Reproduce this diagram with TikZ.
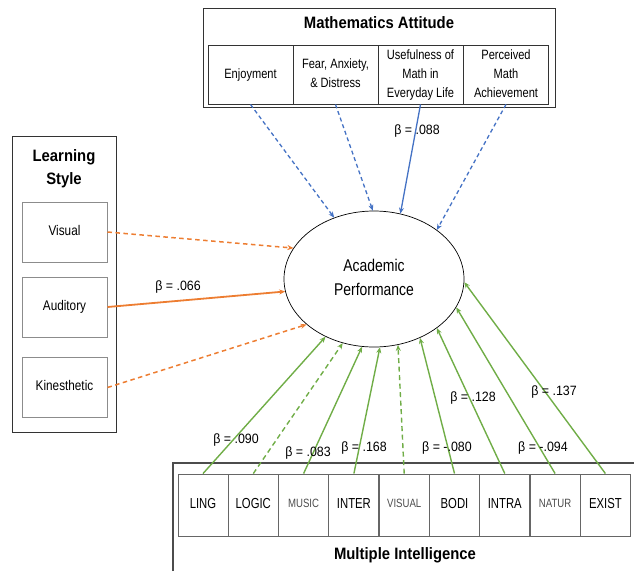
\documentclass[tikz,border=0pt]{standalone}
\usepackage{graphicx}
\usepackage{fontspec}
\setmainfont{Liberation Sans}
\usetikzlibrary{shapes.geometric,arrows.meta}
\definecolor{cblue}{HTML}{4472C4}
\definecolor{corange}{HTML}{ED7D31}
\definecolor{cgreen}{HTML}{70AD47}
\newcommand{\sq}[2][0.82]{\scalebox{#1}[1]{\begin{tabular}{@{}c@{}}#2\end{tabular}}}
\begin{document}
\begin{tikzpicture}[x=1pt,y=-1pt,
  mabox/.style={draw=black!80, line width=0.9pt, minimum width=85pt, minimum height=59pt, align=center, inner sep=0pt, font=\fontsize{13.5}{19}\selectfont},
  lsbox/.style={draw=black!45, line width=1pt, minimum width=85pt, minimum height=60pt, align=center, inner sep=0pt, font=\fontsize{14}{16}\selectfont},
  mibox/.style={draw=black!60, line width=0.9pt, minimum width=50pt, minimum height=62pt, align=center, inner sep=0pt, font=\fontsize{14.5}{16}\selectfont},
  mismall/.style={mibox, font=\fontsize{12}{14}\selectfont, text=black!70},
  title/.style={font=\fontsize{16.5}{23}\selectfont\bfseries, align=center, inner sep=0pt},
  beta/.style={font=\fontsize{13.5}{15}\selectfont, inner sep=0pt},
  frame/.style={draw=black!80, line width=0.9pt},
  tip/.style={-{Stealth[length=6pt,width=5pt]}},
  bluesolid/.style={tip, draw=cblue, line width=1.3pt},
  bluedash/.style={bluesolid, dash pattern=on 4pt off 3pt},
  orsolid/.style={tip, draw=corange, line width=1.8pt},
  ordash/.style={orsolid, line width=1.5pt, dash pattern=on 4.5pt off 3.5pt},
  grsolid/.style={tip, draw=cgreen, line width=1.4pt},
  grdash/.style={grsolid, dash pattern=on 5pt off 3.5pt}
]
\useasboundingbox (0,0) rectangle (634,571);

% Mathematics Attitude
\draw[frame] (203,8) rectangle (555,107);
\node[title] (matitle) at (379,24) {\sq[0.9]{Mathematics Attitude}};
\node[mabox] (enj) at (250.5,74.5) {\sq{Enjoyment}};
\node[mabox] (fear) at (335.5,74.5) {\sq{Fear, Anxiety,\\ \& Distress}};
\node[mabox] (use) at (420.5,74.5) {\sq{Usefulness of\\ Math in\\ Everyday Life}};
\node[mabox] (perc) at (506,74.5) {\sq{Perceived\\ Math\\ Achievement}};

% Learning Style
\draw[frame] (12,136) rectangle (116,432);
\node[title] (lstitle) at (64,168) {\sq[0.9]{Learning\\ Style}};
\node[lsbox] (vis) at (64.5,232) {\sq[0.84]{Visual}};
\node[lsbox] (aud) at (64.5,307) {\sq[0.84]{Auditory}};
\node[lsbox] (kin) at (64.5,387.5) {\sq[0.84]{Kinesthetic}};

% Academic Performance
\node[ellipse, draw=black, line width=0.7pt, minimum width=180pt, minimum height=136pt, inner sep=0pt, align=center, font=\fontsize{17}{24}\selectfont] (ap) at (374,279) {\sq{Academic\\ Performance}};

% Multiple Intelligence
\draw[draw=black!70, line width=1.6pt] (173,571) -- (173,463) -- (634,463);
\node[mibox] (ling) at (203,505) {\sq[0.78]{LING}};
\node[mibox] (logic) at (253.3,505) {\sq[0.78]{LOGIC}};
\node[mismall] (music) at (303.6,505) {\sq[0.8]{MUSIC}};
\node[mibox] (inter) at (353.9,505) {\sq[0.78]{INTER}};
\node[mismall] (visual) at (404.2,505) {\sq[0.8]{VISUAL}};
\node[mibox] (bodi) at (454.5,505) {\sq[0.78]{BODI}};
\node[mibox] (intra) at (504.8,505) {\sq[0.78]{INTRA}};
\node[mismall] (natur) at (555.1,505) {\sq[0.8]{NATUR}};
\node[mibox] (exist) at (605.4,505) {\sq[0.78]{EXIST}};
\node[title] (mititle) at (405,555) {\sq[0.9]{Multiple Intelligence}};

% Blue arrows
\draw[bluedash] (enj.south) -- (ap.123);
\draw[bluedash] (fear.south) -- (ap.91);
\draw[bluesolid] (use.south) -- (ap.68);
\draw[bluedash] (perc.south) -- (ap.38);

% Orange arrows
\draw[ordash] (vis.east) -- (ap.159.5);
\draw[orsolid] (aud.east) -- (ap.188.3);
\draw[ordash] (kin.east) -- (ap.214);

% Green arrows
\draw[grsolid] (ling.north) -- (ap.230.4);
\draw[grdash] (logic.north) -- (ap.244.5);
\draw[grsolid] (music.north) -- (ap.260);
\draw[grsolid] (inter.north) -- (ap.275.9);
\draw[grdash] (visual.north) -- (ap.290.3);
\draw[grsolid] (bodi.north) -- (ap.308.5);
\draw[grsolid] (intra.north) -- (ap.322.6);
\draw[grsolid] (natur.north) -- (ap.341);
\draw[grsolid] (exist.north) -- (ap.358.8);

% Labels
\node[beta] (b1) at (417,131) {\sq[0.92]{β = .088}};
\node[beta] (b2) at (178,287) {\sq[0.92]{β = .066}};
\node[beta] (b3) at (236,440) {\sq[0.92]{β = .090}};
\node[beta] (b4) at (308,453) {\sq[0.92]{β = .083}};
\node[beta] (b5) at (364,448) {\sq[0.92]{β = .168}};
\node[beta] (b6) at (447,448) {\sq[0.92]{β = -.080}};
\node[beta] (b7) at (473,398) {\sq[0.92]{β = .128}};
\node[beta] (b8) at (554,392) {\sq[0.92]{β = .137}};
\node[beta] (b9) at (543,448) {\sq[0.92]{β = -.094}};
\end{tikzpicture}
\end{document}
